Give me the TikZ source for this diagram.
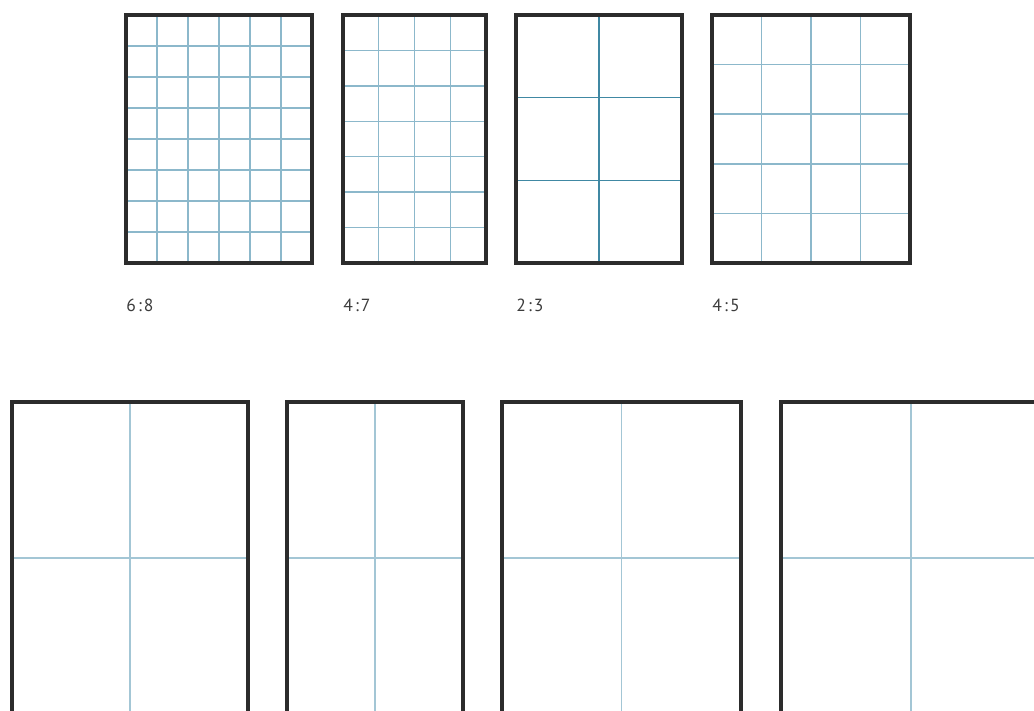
\documentclass[tikz,border=0pt]{standalone}
\usepackage{fontspec}
\newfontfamily\ratiofont[LetterSpace=12]{PT Sans}
\definecolor{gridblue}{HTML}{8CB8CB}
\definecolor{griddark}{HTML}{4088A3}
\definecolor{crossblue}{HTML}{A3C6D5}
\definecolor{boxgray}{HTML}{2C2C2C}
\definecolor{lblgray}{HTML}{3C3C3C}

\begin{document}
\begin{tikzpicture}[
    x=0.02cm, y=-0.02cm,
    pagebox/.style={draw=boxgray, line width=1.9pt},
    gridline/.style={line width=0.8pt},
    crossline/.style={draw=crossblue, line width=0.8pt},
    ratiolbl/.style={text=lblgray, font=\ratiofont\normalsize, anchor=west, inner sep=0pt},
  ]
  \clip (0,0) rectangle (1034,710);

  % ===== top row: page grids with column:row ratio =====
  \foreach \xa/\xb/\nc/\nr/\gc/\lbl [count=\k] in
      {126/312/6/8/gridblue/6:8, 343/486/4/7/gridblue/4:7,
       516/682/2/3/griddark/2:3, 712/910/4/5/gridblue/4:5} {
    \pgfmathtruncatemacro\ncm{\nc-1}
    \pgfmathtruncatemacro\nrm{\nr-1}
    \foreach \i in {1,...,\ncm}
      \draw[gridline, draw=\gc] ({\xa+\i*(\xb-\xa)/\nc},15) -- ({\xa+\i*(\xb-\xa)/\nc},263);
    \foreach \j in {1,...,\nrm}
      \draw[gridline, draw=\gc] (\xa,{15+\j*248/\nr}) -- (\xb,{15+\j*248/\nr});
    \draw[pagebox] (\xa,15) rectangle (\xb,263);
    \node[ratiolbl] (ratio\k) at (\xa,305) {\lbl};
  }

  % ===== bottom row: pages split in four =====
  \foreach \xa/\xb [count=\k] in {12/248, 287/463, 502/741, 781/1041} {
    \draw[crossline] ({(\xa+\xb)/2},402) -- ({(\xa+\xb)/2},716);
    \draw[crossline] (\xa,558) -- (\xb,558);
    \draw[pagebox] (\xa,402) rectangle (\xb,716);
  }
\end{tikzpicture}
\end{document}
